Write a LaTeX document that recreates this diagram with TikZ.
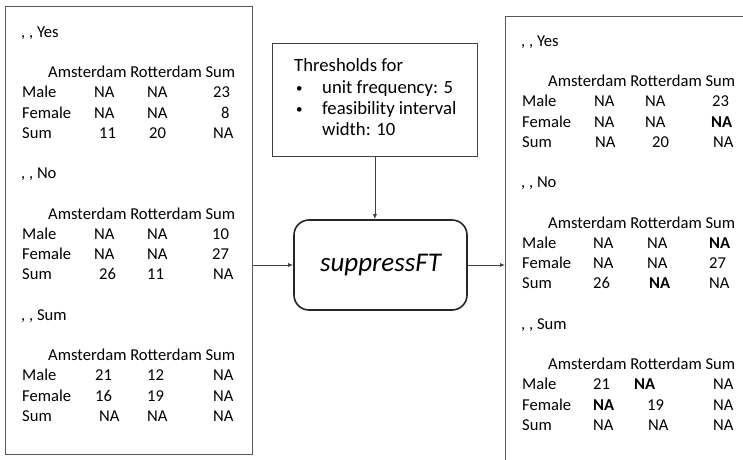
\documentclass[tikz,border=0pt]{standalone}
\usepackage{fontspec}
\setmainfont{Carlito}
\usetikzlibrary{arrows.meta}
\newcommand\tbrow[9]{%
  \node[tabtxt] (#1l) at (22,{35+20.2*#2}) {#3};
  \node[tabtxt] (#1a) at (#4,{35+20.2*#2}) {#5};
  \node[tabtxt] (#1b) at (#6,{35+20.2*#2}) {#7};
  \node[tabtxt] (#1c) at (#8,{35+20.2*#2}) {#9};}
\newcommand\tbhead[3]{%
  \node[tabtxt] (#1t) at (21,{35+20.2*#2}) {#3};
  \node[tabtxt] (#1h) at (48,{35+20.2*(#2+2)}) {Amsterdam Rotterdam Sum};}
\begin{document}
\begin{tikzpicture}[x=1pt,y=-1pt,
  tabtxt/.style={anchor=mid west,inner sep=0pt,font=\fontsize{16.6}{20}\selectfont},
  thrtxt/.style={anchor=mid west,inner sep=0pt,font=\fontsize{18.7}{21}\selectfont},
  bultxt/.style={anchor=mid west,inner sep=0pt,font=\fontsize{13}{15}\selectfont},
  outbox/.style={draw=black!65,line width=1.4pt,rectangle,anchor=north west,inner sep=0pt},
  thrbox/.style={draw=black!75,line width=0.8pt,rectangle,anchor=north west,inner sep=0pt,
    minimum width=205pt,minimum height=113pt},
  funbox/.style={draw=black!85,line width=1.6pt,rectangle,rounded corners=15pt,
    minimum width=173pt,minimum height=90pt,inner sep=0pt,
    font=\fontsize{27}{30}\selectfont\itshape},
  arr/.style={draw=black!75,line width=0.8pt,-{Latex[length=5pt,width=4pt]}}]
\useasboundingbox (0,0) rectangle (743,459);
\clip (0,0) rectangle (743,459);
% boxes
\node[outbox,minimum width=247pt,minimum height=448pt] (inbox) at (5,6) {};
\node[outbox,minimum width=260pt,minimum height=460pt] (outb) at (505,16) {};
\node[thrbox] (thr) at (272,43) {};
\node[funbox] (sup) at (380.5,265) {suppressFT};
% thresholds text
\node[thrtxt] (th0) at (294,69) {Thresholds for};
\node[bultxt] (tb1) at (296,90) {•};
\node[thrtxt] (th1) at (322,91) {unit frequency: 5};
\node[bultxt] (tb2) at (296,111) {•};
\node[thrtxt] (th2) at (322,112) {feasibility interval};
\node[thrtxt] (th3) at (322,133) {width: 10};
% left tables
\tbhead{LY}{0}{, , Yes}
\tbrow{LYm}{3}{Male}{94}{NA}{147}{NA}{213}{23}
\tbrow{LYf}{4}{Female}{94}{NA}{147}{NA}{221}{8}
\tbrow{LYs}{5}{Sum}{99}{11}{149}{20}{213}{NA}
\tbhead{LN}{7}{, , No}
\tbrow{LNm}{10}{Male}{94}{NA}{147}{NA}{212}{10}
\tbrow{LNf}{11}{Female}{94}{NA}{147}{NA}{212}{27}
\tbrow{LNs}{12}{Sum}{99}{26}{147}{11}{213}{NA}
\tbhead{LS}{14}{, , Sum}
\tbrow{LSm}{17}{Male}{95}{21}{147}{12}{213}{NA}
\tbrow{LSf}{18}{Female}{95}{16}{147}{19}{213}{NA}
\tbrow{LSs}{19}{Sum}{99}{NA}{147}{NA}{213}{NA}
% right tables
\begin{scope}[shift={(500,9)}]
\tbhead{RY}{0}{, , Yes}
\tbrow{RYm}{3}{Male}{94}{NA}{145}{NA}{212}{23}
\tbrow{RYf}{4}{Female}{94}{NA}{145}{NA}{211}{\textbf{NA}}
\tbrow{RYs}{5}{Sum}{95}{NA}{152}{20}{213}{NA}
\tbhead{RN}{7}{, , No}
\tbrow{RNm}{10}{Male}{93}{NA}{147}{NA}{209}{\textbf{NA}}
\tbrow{RNf}{11}{Female}{93}{NA}{147}{NA}{209}{27}
\tbrow{RNs}{12}{Sum}{93}{26}{149}{\textbf{NA}}{209}{NA}
\tbhead{RS}{14}{, , Sum}
\tbrow{RSm}{17}{Male}{93}{21}{134}{\textbf{NA}}{213}{NA}
\tbrow{RSf}{18}{Female}{93}{\textbf{NA}}{147}{19}{213}{NA}
\tbrow{RSs}{19}{Sum}{93}{NA}{148}{NA}{213}{NA}
\end{scope}
% connectors
\draw[arr] (thr.south) -- (thr.south |- sup.north);
\draw[arr] (sup.west -| inbox.east) -- (sup.west);
\draw[arr] (sup.east) -- (sup.east -| outb.west);
\end{tikzpicture}
\end{document}
